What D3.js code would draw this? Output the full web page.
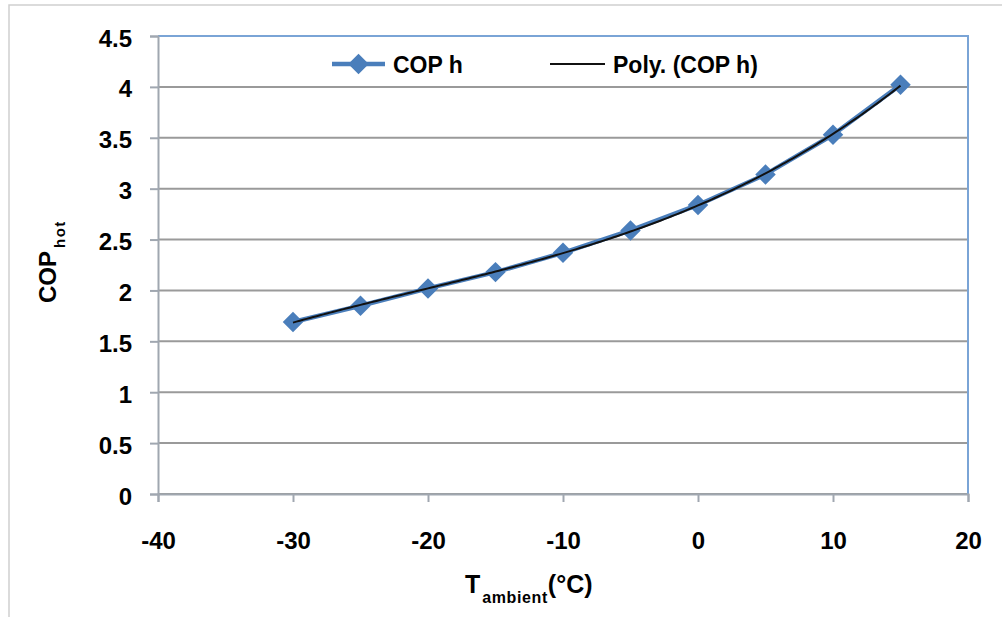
<!DOCTYPE html>
<html>
<head>
<meta charset="utf-8">
<script src="https://cdn.jsdelivr.net/npm/d3@7"></script>
<style>
  body { margin: 0; background: #fff; }
  text { font-family: "Liberation Sans", Arial, sans-serif; font-weight: bold; }
</style>
</head>
<body>
<div class="canvas"></div>
<script>
// data
const tAmbient = [-30, -25, -20, -15, -10, -5, 0, 5, 10, 15];
const copHot = [1.69, 1.85, 2.02, 2.18, 2.37, 2.59, 2.84, 3.14, 3.53, 4.02];
const xTicks = [-40, -30, -20, -10, 0, 10, 20];
const yTicks = [0, 0.5, 1, 1.5, 2, 2.5, 3, 3.5, 4, 4.5];
const legendNames = ["COP h", "Poly. (COP h)"];

const width = 1002;
const height = 617;
const blue = "#4a7ebb";

const svg = d3
  .select(".canvas")
  .append("svg")
  .attr("width", width)
  .attr("height", height);

// outer chart frame (only top and left edges visible)
svg
  .append("rect")
  .attr("x", 9)
  .attr("y", 5)
  .attr("width", width + 20)
  .attr("height", height + 20)
  .attr("fill", "none")
  .attr("stroke", "#cfcfcf")
  .attr("stroke-width", 1.5);

const xScale = d3.scaleLinear().domain([-40, 20]).range([158, 968]);
const yScale = d3.scaleLinear().domain([0, 4.5]).range([494, 36]);

// gridlines
svg
  .append("g")
  .selectAll("line")
  .data(yTicks)
  .enter()
  .append("line")
  .attr("x1", xScale(-40))
  .attr("x2", xScale(20))
  .attr("y1", (d) => yScale(d))
  .attr("y2", (d) => yScale(d))
  .attr("stroke", "#9a9a9a")
  .attr("stroke-width", 2);

// plot area border (top / right blue)
svg
  .append("path")
  .attr("d", `M${xScale(-40)},${yScale(4.5)}H${xScale(20)}V${yScale(0)}`)
  .attr("fill", "none")
  .attr("stroke", "#7aa4d6")
  .attr("stroke-width", 2);

// axes
const yAxis = d3
  .axisLeft(yScale)
  .tickValues(yTicks)
  .tickSize(8)
  .tickPadding(18)
  .tickFormat((d) => String(d));

const xAxis = d3
  .axisBottom(xScale)
  .tickValues(xTicks)
  .tickSize(8)
  .tickPadding(30)
  .tickFormat((d) => String(d));

const gy = svg
  .append("g")
  .attr("transform", `translate(${xScale(-40)},0)`)
  .call(yAxis);

const gx = svg
  .append("g")
  .attr("transform", `translate(0,${yScale(0)})`)
  .call(xAxis);

[gx, gy].forEach((g) => {
  g.select(".domain").attr("stroke", "#a0a7b0").attr("stroke-width", 2);
  g.selectAll(".tick line").attr("stroke", "#a0a7b0").attr("stroke-width", 2);
  g.selectAll(".tick text")
    .attr("fill", "#000")
    .attr("font-size", 24)
    .attr("font-family", "Liberation Sans, Arial, sans-serif")
    .attr("font-weight", "bold");
});
gy.selectAll(".tick text").attr("dy", "0.42em");

// polynomial trendline (order 3), least squares on the data
function polyFit(xs, ys, order) {
  const n = order + 1;
  const m = d3.range(n).map(() => new Array(n + 1).fill(0));
  xs.forEach((x, i) => {
    for (let r = 0; r < n; r++) {
      for (let c = 0; c < n; c++) m[r][c] += Math.pow(x, r + c);
      m[r][n] += ys[i] * Math.pow(x, r);
    }
  });
  for (let c = 0; c < n; c++) {
    for (let r = c + 1; r < n; r++) {
      const f = m[r][c] / m[c][c];
      for (let k = c; k <= n; k++) m[r][k] -= f * m[c][k];
    }
  }
  const a = new Array(n).fill(0);
  for (let r = n - 1; r >= 0; r--) {
    let v = m[r][n];
    for (let k = r + 1; k < n; k++) v -= m[r][k] * a[k];
    a[r] = v / m[r][r];
  }
  return (x) => a.reduce((s, ak, k) => s + ak * Math.pow(x, k), 0);
}
const trend = polyFit(tAmbient, copHot, 3);
const trendX = d3.range(tAmbient[0], tAmbient[tAmbient.length - 1] + 0.01, 0.25);

const line = d3
  .line()
  .x((d) => xScale(d[0]))
  .y((d) => yScale(d[1]));

const pts = tAmbient.map((x, i) => [x, copHot[i]]);

// series line
svg
  .append("path")
  .datum(pts)
  .attr("d", line)
  .attr("fill", "none")
  .attr("stroke", blue)
  .attr("stroke-width", 4.5)
  .attr("stroke-linejoin", "round");

// diamond markers
const diamond = d3.symbol().type(d3.symbolSquare).size(210);
svg
  .append("g")
  .selectAll("path")
  .data(pts)
  .enter()
  .append("path")
  .attr("d", diamond)
  .attr("transform", (d) => `translate(${xScale(d[0])},${yScale(d[1])}) rotate(45)`)
  .attr("fill", blue);

// trendline
svg
  .append("path")
  .datum(trendX.map((x) => [x, trend(x)]))
  .attr("d", line)
  .attr("fill", "none")
  .attr("stroke", "#111")
  .attr("stroke-width", 2);

// legend
const legend = svg.append("g");
legend
  .append("line")
  .attr("x1", 332)
  .attr("x2", 385)
  .attr("y1", 64)
  .attr("y2", 64)
  .attr("stroke", blue)
  .attr("stroke-width", 4.5);
legend
  .append("path")
  .attr("d", diamond)
  .attr("transform", "translate(358.5,64) rotate(45)")
  .attr("fill", blue);
legend
  .append("text")
  .text(legendNames[0])
  .attr("x", 393)
  .attr("y", 73)
  .attr("font-size", 23);
legend
  .append("line")
  .attr("x1", 550)
  .attr("x2", 605)
  .attr("y1", 64)
  .attr("y2", 64)
  .attr("stroke", "#111")
  .attr("stroke-width", 2);
legend
  .append("text")
  .text(legendNames[1])
  .attr("x", 613)
  .attr("y", 73)
  .attr("font-size", 23);

// axis titles
const yTitle = svg
  .append("text")
  .attr("transform", "translate(56,303) rotate(-90)")
  .attr("font-size", 24);
yTitle.append("tspan").text("COP");
yTitle
  .append("tspan")
  .text("hot")
  .attr("dx", 3)
  .attr("dy", 9)
  .attr("font-size", 15)
  .attr("letter-spacing", 1.5);

const xTitle = svg
  .append("text")
  .attr("x", 465)
  .attr("y", 593)
  .attr("font-size", 25);
xTitle.append("tspan").text("T");
xTitle
  .append("tspan")
  .text("ambient")
  .attr("dx", 2)
  .attr("dy", 10)
  .attr("font-size", 16)
  .attr("letter-spacing", 0.6);
xTitle.append("tspan").text("(°C)").attr("dy", -10);
</script>
</body>
</html>
